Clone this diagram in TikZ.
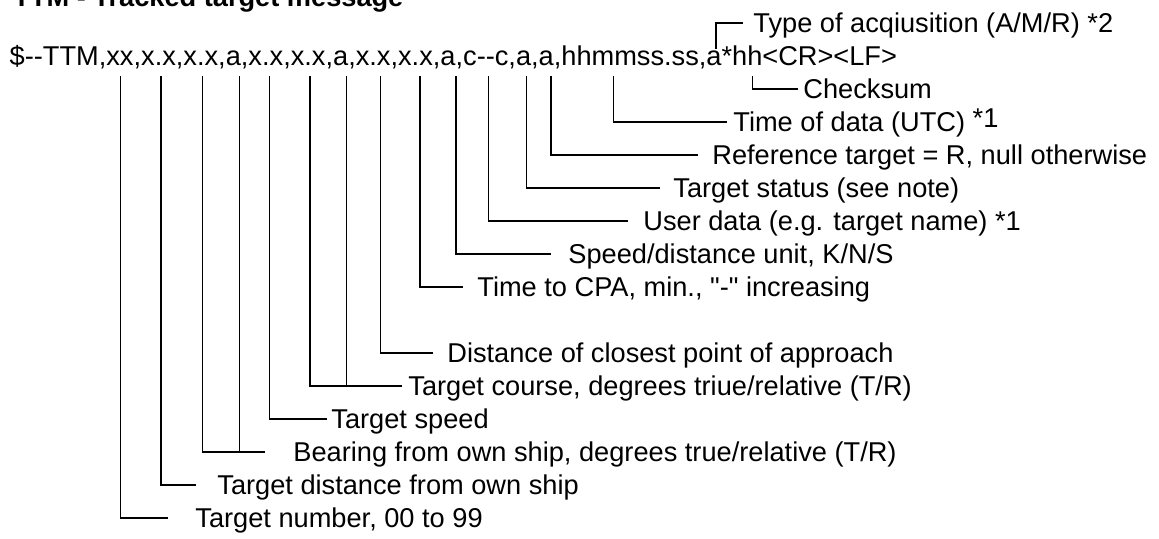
\documentclass[tikz,border=0pt]{standalone}
\usepackage{fontspec}
\setmainfont{Liberation Sans}

\begin{document}
\begin{tikzpicture}[
      x=0.5pt, y=-0.5pt,
      every node/.style={font=\fontsize{13.6}{16}\selectfont},
      msg/.style={anchor=base west, inner sep=0pt},
      lbl/.style={anchor=west, inner sep=0pt, text height=9.74pt, text depth=0pt},
      lead/.style={line width=0.6pt}
  ]
      \clip (0,0) rectangle (1159,539);

      % Title and sentence
      \node[msg, font=\fontsize{13.6}{16}\selectfont\bfseries] (title) at (13,7) {TTM - Tracked target message};
      \node[msg] (sentence) at (9.3,66) {\$-{}-TTM,xx,x.x,x.x,a,x.x,x.x,a,x.x,x.x,a,c-{}-c,a,a,hhmmss.ss,a*hh<CR><LF>};

      % Fields
      \coordinate (fnum)    at (120.7,76);
      \coordinate (fdist)   at (161,76);
      \coordinate (fbrg)    at (202.3,76);
      \coordinate (fbrgref) at (239.3,76);
      \coordinate (fspd)    at (269.3,76);
      \coordinate (fcrs)    at (310,76);
      \coordinate (fcrsref) at (346.7,76);
      \coordinate (fdcpa)   at (380.7,76);
      \coordinate (ftcpa)   at (420,76);
      \coordinate (funit)   at (456,76);
      \coordinate (fuser)   at (488.3,76);
      \coordinate (fstat)   at (526.7,76);
      \coordinate (fref)    at (551,76);
      \coordinate (ftime)   at (613.3,76);
      \coordinate (fsum)    at (752.7,76);
      \coordinate (facq)    at (716,49);

      % Labels
      \node[lbl] (lacq)  at (753,23)  {Type of acqiusition (A/M/R) *2};
      \node[lbl] (lsum)  at (803,89)  {Checksum};
      \node[lbl] (ltime) at (733,122) {Time of data (UTC) \raisebox{0.3ex}{*1}};
      \node[lbl] (lref)  at (712,155) {Reference target = R, null otherwise};
      \node[lbl] (lstat) at (673,188) {Target status (see note)};
      \node[lbl] (luser) at (643,221) {User data (e.g. target name) *1};
      \node[lbl] (lunit) at (568,254) {Speed/distance unit, K/N/S};
      \node[lbl] (ltcpa) at (477,287) {Time to CPA, min., \textquotedbl-\textquotedbl\ increasing};
      \node[lbl] (ldcpa) at (447,353) {Distance of closest point of approach};
      \node[lbl] (lcrs)  at (408,386) {Target course, degrees triue/relative (T/R)};
      \node[lbl] (lspd)  at (331,419) {Target speed};
      \node[lbl] (lbrg)  at (293,452) {Bearing from own ship, degrees true/relative (T/R)};
      \node[lbl] (ldist) at (217,485) {Target distance from own ship};
      \node[lbl] (lnum)  at (195,518) {Target number, 00 to 99};

      % Leaders
      \draw[lead, shorten >=5pt]   (facq)  |- (lacq.west);
      \draw[lead, shorten >=2.5pt] (fsum)  |- (lsum.west);
      \draw[lead, shorten >=3pt]   (ftime) |- (ltime.west);
      \draw[lead, shorten >=7pt]   (fref)  |- (lref.west);
      \draw[lead, shorten >=6.5pt] (fstat) |- (lstat.west);
      \draw[lead, shorten >=7.5pt] (fuser) |- (luser.west);
      \draw[lead, shorten >=8.5pt] (funit) |- (lunit.west);
      \draw[lead, shorten >=7pt]   (ftcpa) |- (ltcpa.west);
      \draw[lead, shorten >=7pt]   (fdcpa) |- (ldcpa.west);
      \draw[lead, shorten >=3pt]   (fcrs)  |- (lcrs.west);
      \draw[lead] (fcrsref) -- (fcrsref |- lcrs.west);
      \draw[lead, shorten >=2pt]   (fspd)  |- (lspd.west);
      \draw[lead, shorten >=14pt]  (fbrg)  |- (lbrg.west);
      \draw[lead] (fbrgref) -- (fbrgref |- lbrg.west);
      \draw[lead, shorten >=10.5pt] (fdist) |- (ldist.west);
      \draw[lead, shorten >=13.5pt] (fnum)  |- (lnum.west);

  \end{tikzpicture}
\end{document}
